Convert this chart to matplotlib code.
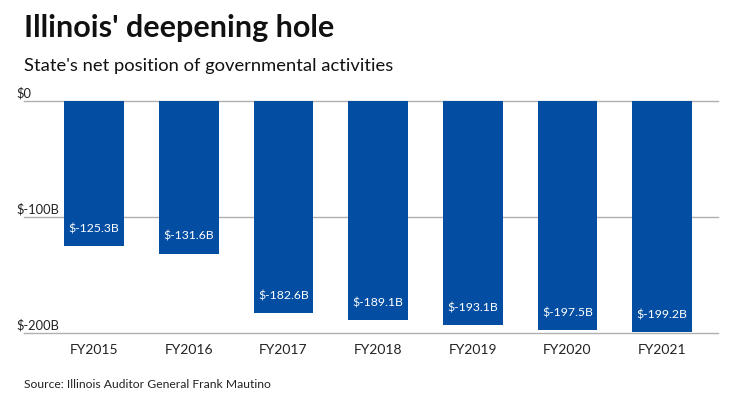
import matplotlib
matplotlib.use("Agg")
import matplotlib.pyplot as plt
from matplotlib.transforms import blended_transform_factory, offset_copy

plt.rcParams['font.family'] = ['Lato', 'DejaVu Sans']

categories = ["FY2015", "FY2016", "FY2017", "FY2018", "FY2019", "FY2020", "FY2021"]
values = [-125.3, -131.6, -182.6, -189.1, -193.1, -197.5, -199.2]
bar_labels = ["$-125.3B", "$-131.6B", "$-182.6B", "$-189.1B", "$-193.1B", "$-197.5B", "$-199.2B"]
yticks = [0, -100, -200]
ytick_labels = ["$0", "$-100B", "$-200B"]

W, H = 740, 416
fig = plt.figure(figsize=(W/100, H/100), dpi=100)
fig.patch.set_facecolor("white")

ax = fig.add_axes([24/W, 1-333/H, (718-24)/W, (333-101)/H])
ax.set_xlim(-0.74, 6.59)
ax.set_ylim(-200, 0)
for s in ax.spines.values():
    s.set_visible(False)
ax.set_yticks([])
ax.set_xticks([])

for t in yticks:
    ax.axhline(t, color="#b0b0b0", lw=1, zorder=0, clip_on=False)

x = list(range(len(categories)))
ax.bar(x, values, width=0.63, color="#034ea2", zorder=2, clip_on=False)

trans = blended_transform_factory(ax.transAxes, ax.transData)
for t, lab in zip(yticks, ytick_labels):
    ax.text(-7.5/694, t, lab, transform=offset_copy(trans, fig=fig, x=0, y=0.8, units='points'),
            ha="left", va="bottom", fontsize=9.3, color="#222222")

for xi, v, lab in zip(x, values, bar_labels):
    ax.annotate(lab, (xi, v), xytext=(0, 8.5), textcoords="offset points",
                ha="center", va="bottom", fontsize=8.8, color="white")

for xi, c in zip(x, categories):
    ax.annotate(c, (xi, -200), xytext=(0, -8), textcoords="offset points",
                ha="center", va="top", fontsize=10, color="#222222")

fig.text(24/W, 1-28/H, "Illinois' deepening hole", fontsize=22, fontweight="bold",
         ha="left", va="center", color="#111111")
fig.text(24/W, 1-66/H, "State's net position of governmental activities", fontsize=13.2,
         ha="left", va="center", color="#111111")
fig.text(24/W, 1-384/H, "Source: Illinois Auditor General Frank Mautino", fontsize=8.7,
         ha="left", va="center", color="#222222")

fig.savefig("out.png", dpi=100)
